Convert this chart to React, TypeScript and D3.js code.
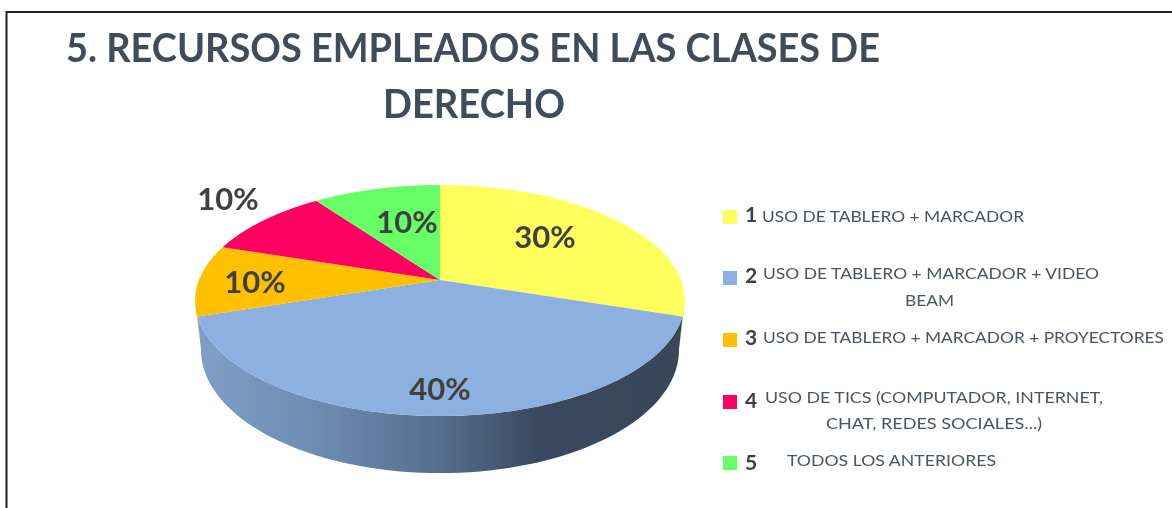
import React from "react";
import * as d3 from "d3";

const titleLines = ["5. RECURSOS EMPLEADOS EN LAS CLASES DE", "DERECHO"];
const categories = ["1", "2", "3", "4", "5"];
const values = [30, 40, 10, 10, 10];
const colors = ["#FFFF5B", "#8CB0E0", "#FFC000", "#FF0060", "#66FF66"];
const percentLabels = ["30%", "40%", "10%", "10%", "10%"];
const labelPositions: [number, number][] = [[545, 237], [440, 389], [255, 282], [228, 199], [407, 222]];
const legendLines: { t: string; x: number; w: number; y: number }[][] = [
  [{ t: "USO DE TABLERO + MARCADOR", x: 762, w: 262, y: 222 }],
  [{ t: "USO DE TABLERO + MARCADOR + VIDEO", x: 763, w: 336, y: 279 }, { t: "BEAM", x: 905, w: 49, y: 306 }],
  [{ t: "USO DE TABLERO + MARCADOR + PROYECTORES", x: 763, w: 401, y: 343 }],
  [{ t: "USO DE TICS (COMPUTADOR, INTERNET,", x: 765, w: 338, y: 403 }, { t: "CHAT, REDES SOCIALES...)", x: 826, w: 216, y: 429 }],
  [{ t: "TODOS LOS ANTERIORES", x: 787, w: 209, y: 466 }],
];
const swatchY = [210, 271, 333, 395, 456];
const numberY = [222, 283, 345, 408, 470];

const K = 0.1775;
const DEG = Math.PI / 180;
const project = (a: number, cx: number, cy: number, R: number, b: number, k = K): [number, number] => {
  const w = 1 + k * Math.cos(a);
  return [cx + (R * Math.sin(a)) / w, cy - (b * Math.cos(a)) / w];
};
const top = (a: number) => project(a, 440, 280, 241, 111.9);
const bottom = (a: number) => project(a, 440, 328.2, 235.2, 119.2);
const line = d3.line<[number, number]>();
const sample = (a0: number, a1: number) => d3.range(0, 81).map((i) => a0 + ((a1 - a0) * i) / 80);

export default function App() {
  const arcs = d3.pie<number>().value((d) => d).sort(null)(values);
  const blue = arcs[1];
  const rim = sample(blue.startAngle, blue.endAngle);
  const bottomRim = sample(blue.startAngle - 8 * DEG, blue.endAngle + 8 * DEG);
  const sidePath = line([...rim.map(top), ...bottomRim.slice().reverse().map(bottom)]) + "Z";
  const orangeSide = line([top(blue.endAngle), top(blue.endAngle + 6 * DEG), bottom(blue.endAngle + 8 * DEG)]) + "Z";
  const yellowSide = line([top(blue.startAngle), top(blue.startAngle - 6 * DEG), bottom(blue.startAngle - 8 * DEG)]) + "Z";
  const font = "Lato, 'Open Sans', sans-serif";
  return (
    <svg width={1172} height={508} style={{ position: "fixed", left: 0, top: 0, background: "#fff" }}>
      <defs>
        <linearGradient id="side" gradientUnits="userSpaceOnUse" x1={200} x2={680} y1={0} y2={0}>
          <stop offset="0" stopColor="#7E9FC8" />
          <stop offset="0.25" stopColor="#6C8BB0" />
          <stop offset="0.5" stopColor="#566E8E" />
          <stop offset="0.7" stopColor="#3A4A60" />
          <stop offset="1" stopColor="#374659" />
        </linearGradient>
        <filter id="soft" x="-5%" y="-5%" width="110%" height="110%">
          <feGaussianBlur stdDeviation="0.7" />
        </filter>
      </defs>
      <g filter="url(#soft)">
        <path d="M6.5 508V12H1172" fill="none" stroke="#222" strokeWidth={2} />
        <path d={orangeSide} fill="#E8B020" />
        <path d={yellowSide} fill="#C8C860" />
        <path d={sidePath} fill="url(#side)" />
        {arcs.map((d, i) => (
          <path key={categories[i]} d={line([[440, 280], ...sample(d.startAngle, d.endAngle).map(top)]) + "Z"} fill={colors[i]} />
        ))}
        {percentLabels.map((t, i) => (
          <text key={i} x={labelPositions[i][0]} y={labelPositions[i][1] + 11} textAnchor="middle" fontFamily={font} fontWeight={700} fontSize={31} fill="#404040">{t}</text>
        ))}
        <text x={66} y={62} fontFamily={font} fontWeight={700} fontSize={40} fill="#3F4C5C" textLength={814} lengthAdjust="spacingAndGlyphs">{titleLines[0]}</text>
        <text x={383} y={118} fontFamily={font} fontWeight={700} fontSize={40} fill="#3F4C5C" textLength={182} lengthAdjust="spacingAndGlyphs">{titleLines[1]}</text>
        {categories.map((c, i) => (
          <g key={c}>
            <rect x={723} y={swatchY[i]} width={14} height={14} fill={colors[i]} />
            <text x={751} y={numberY[i]} textAnchor="middle" fontFamily={font} fontWeight={700} fontSize={21} fill="#404040">{c}</text>
            {legendLines[i].map((l) => (
              <text key={l.t} x={l.x} y={l.y} fontFamily={font} fontSize={15} fill="#4A5462" textLength={l.w} lengthAdjust="spacingAndGlyphs">{l.t}</text>
            ))}
          </g>
        ))}
      </g>
    </svg>
  );
}
